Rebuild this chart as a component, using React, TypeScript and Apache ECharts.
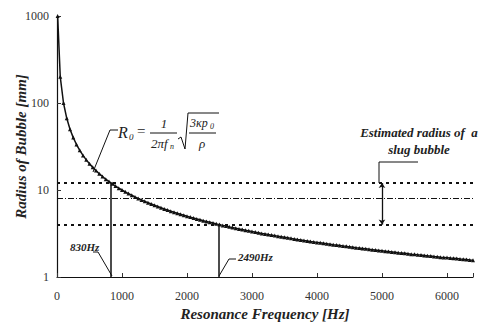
import React, { useEffect, useRef } from "react";
import * as echarts from "echarts";

const frequencies: number[] = [
  10, 50, 100, 150, 200, 250, 300, 350, 400, 450, 500, 550, 600, 650, 700, 750, 800, 850, 900, 950,
  1000, 1050, 1100, 1150, 1200, 1250, 1300, 1350, 1400, 1450, 1500, 1550, 1600, 1650, 1700, 1750,
  1800, 1850, 1900, 1950, 2000, 2050, 2100, 2150, 2200, 2250, 2300, 2350, 2400, 2450, 2500, 2550,
  2600, 2650, 2700, 2750, 2800, 2850, 2900, 2950, 3000, 3050, 3100, 3150, 3200, 3250, 3300, 3350,
  3400, 3450, 3500, 3550, 3600, 3650, 3700, 3750, 3800, 3850, 3900, 3950, 4000, 4050, 4100, 4150,
  4200, 4250, 4300, 4350, 4400, 4450, 4500, 4550, 4600, 4650, 4700, 4750, 4800, 4850, 4900, 4950,
  5000, 5050, 5100, 5150, 5200, 5250, 5300, 5350, 5400, 5450, 5500, 5550, 5600, 5650, 5700, 5750,
  5800, 5850, 5900, 5950, 6000, 6050, 6100, 6150, 6200, 6250, 6300, 6350, 6400,
];
const radiusMm: number[] = [
  1000, 200, 100, 66.7, 50, 40, 33.3, 28.6, 25, 22.2, 20, 18.2, 16.7, 15.4, 14.3, 13.3, 12.5, 11.8, 11.1, 10.5,
  10, 9.52, 9.09, 8.7, 8.33, 8.0, 7.69, 7.41, 7.14, 6.9, 6.67, 6.45, 6.25, 6.06, 5.88, 5.71,
  5.56, 5.41, 5.26, 5.13, 5.0, 4.88, 4.76, 4.65, 4.55, 4.44, 4.35, 4.26, 4.17, 4.08, 4.0, 3.92,
  3.85, 3.77, 3.7, 3.64, 3.57, 3.51, 3.45, 3.39, 3.33, 3.28, 3.23, 3.17, 3.13, 3.08, 3.03, 2.99,
  2.94, 2.9, 2.86, 2.82, 2.78, 2.74, 2.7, 2.67, 2.63, 2.6, 2.56, 2.53, 2.5, 2.47, 2.44, 2.41,
  2.38, 2.35, 2.33, 2.3, 2.27, 2.25, 2.22, 2.2, 2.17, 2.15, 2.13, 2.11, 2.08, 2.06, 2.04, 2.02,
  2.0, 1.98, 1.96, 1.94, 1.92, 1.9, 1.89, 1.87, 1.85, 1.83, 1.82, 1.8, 1.79, 1.77, 1.75, 1.74,
  1.72, 1.71, 1.69, 1.68, 1.67, 1.65, 1.64, 1.63, 1.61, 1.6, 1.59, 1.57, 1.56,
];

const upperRadius = 12;
const middleRadius = 8.1;
const lowerRadius = 4;
const freqA = 830;
const freqB = 2490;
const arrowFreq = 5000;
const xTicks = [0, 1000, 2000, 3000, 4000, 5000, 6000];
const yTicks = [1, 10, 100, 1000];

const SERIF = "Liberation Serif";

export default function App() {
  const ref = useRef<HTMLDivElement>(null);
  useEffect(() => {
    document.body.style.margin = "0";
    if (!ref.current) return;
    const chart = echarts.init(ref.current, undefined, { renderer: "svg" });
    const data = frequencies.map((f, i) => [f, radiusMm[i]]);
    const txt = (
      x: number,
      y: number,
      text: string,
      size: number,
      opts: any = {}
    ) => ({
      type: "text",
      x,
      y,
      silent: true,
      style: {
        text,
        fontFamily: SERIF,
        fontStyle: "italic",
        fontSize: size,
        fill: "#222",
        verticalAlign: "middle",
        align: "left",
        ...opts,
      },
    });
    const ln = (points: number[][], w = 1) => ({
      type: "polyline",
      silent: true,
      shape: { points },
      style: { stroke: "#111", lineWidth: w, fill: "none" },
    });
    chart.setOption({
      animation: false,
      grid: { left: 57, right: 5, top: 16, bottom: 49, outerBoundsMode: "none", containLabel: false },
      xAxis: {
        type: "value",
        min: 0,
        max: 6400,
        interval: 1000,
        splitLine: { show: false },
        axisLine: { lineStyle: { color: "#111", width: 1.2 } },
        axisTick: { inside: true, length: 4, lineStyle: { color: "#333" } },
        axisLabel: {
          fontFamily: SERIF,
          fontSize: 12,
          color: "#333",
          margin: 13,
          formatter: (v: number) => (xTicks.includes(v) ? String(v) : ""),
        },
        name: "Resonance Frequency [Hz]",
        nameLocation: "middle",
        nameGap: 29,
        nameMoveOverlap: false,
        nameTextStyle: {
          fontFamily: SERIF,
          fontSize: 15,
          fontWeight: "bold",
          fontStyle: "italic",
          color: "#222",
        },
      },
      yAxis: {
        type: "log",
        logBase: 10,
        min: 1,
        max: 1000,
        splitLine: { show: false },
        minorTick: { show: false },
        axisLine: { show: true, lineStyle: { color: "#111", width: 1.2 } },
        axisTick: { show: true, inside: true, length: 4, lineStyle: { color: "#333" } },
        axisLabel: {
          fontFamily: SERIF,
          fontSize: 12,
          color: "#333",
          margin: 8,
          formatter: (v: number) => (yTicks.includes(Math.round(v)) ? String(Math.round(v)) : ""),
        },
        name: "Radius of Bubble [mm]",
        nameLocation: "middle",
        nameGap: 29,
        nameMoveOverlap: false,
        nameTextStyle: {
          fontFamily: SERIF,
          fontSize: 15,
          fontWeight: "bold",
          fontStyle: "italic",
          color: "#222",
        },
      },
      series: [
        {
          type: "line",
          data,
          symbol: "triangle",
          symbolSize: 4,
          showSymbol: true,
          itemStyle: { color: "#111" },
          lineStyle: { color: "#111", width: 1.5 },
          z: 5,
        },
        {
          type: "line",
          data: [],
          markLine: {
            silent: true,
            symbol: ["none", "none"],
            label: { show: false },
            data: [
              { yAxis: upperRadius, lineStyle: { color: "#111", width: 2, type: [3, 4] } },
              { yAxis: middleRadius, lineStyle: { color: "#111", width: 1, type: [6, 2, 1, 2] } },
              { yAxis: lowerRadius, lineStyle: { color: "#111", width: 2, type: [3, 4] } },
              [
                { coord: [freqA, upperRadius], lineStyle: { color: "#111", width: 1.5, type: "solid" } },
                { coord: [freqA, 1] },
              ],
              [
                { coord: [freqB, lowerRadius], lineStyle: { color: "#111", width: 1.5, type: "solid" } },
                { coord: [freqB, 1] },
              ],
              [
                {
                  coord: [arrowFreq, upperRadius],
                  symbol: "arrow",
                  symbolSize: 5,
                  lineStyle: { color: "#111", width: 1.3, type: "solid" },
                },
                { coord: [arrowFreq, lowerRadius], symbol: "arrow", symbolSize: 5 },
              ],
            ],
          },
        },
      ],
      graphic: [
        ln([[118, 130], [110, 130], [93, 172]]),
        txt(118, 132, "R", 16),
        txt(129, 137, "0", 9),
        txt(137, 131, "=", 15, { fontStyle: "normal" }),
        txt(164, 123, "1", 13, { align: "center" }),
        ln([[150, 133], [177, 133]]),
        txt(151, 143, "2πf", 13),
        txt(170, 146, "n", 8),
        ln([[178, 139], [181, 137], [185, 149], [188, 113], [219, 113]]),
        txt(190, 123, "3κp", 12),
        txt(210, 126, "0", 8),
        ln([[189, 133], [216, 133]]),
        txt(202, 143, "ρ", 13, { align: "center" }),
        txt(70, 247, "830Hz", 11, { fontWeight: "bold" }),
        ln([[93, 252], [98, 252], [112, 276]]),
        txt(238, 257, "2490Hz", 11, { fontWeight: "bold" }),
        ln([[236, 259], [229, 259], [219, 276]]),
        ln([[379, 183], [379, 162], [418, 162]]),
        txt(419, 132, "Estimated radius of  a", 13, { fontWeight: "bold", align: "center" }),
        txt(419, 149, "slug bubble", 13, { fontWeight: "bold", align: "center" }),
      ],
    });
    return () => chart.dispose();
  }, []);
  return <div ref={ref} style={{ width: 478, height: 326 }} />;
}
